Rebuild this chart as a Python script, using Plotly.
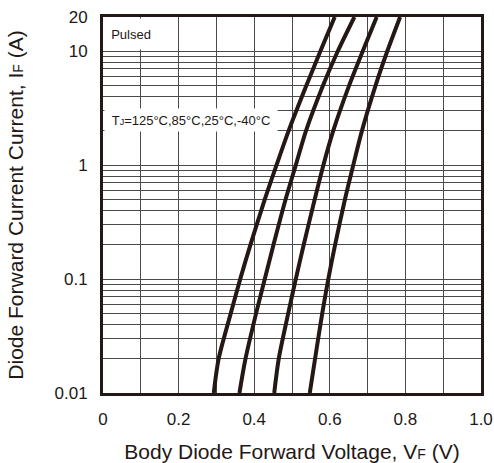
import plotly.graph_objects as go

# Forward current sample points (A) shared by every curve
current_a = [0.01, 0.02, 0.05, 0.1, 0.2, 0.5, 1, 2, 5, 10, 20]

# Body diode forward voltage (V) at each current, per junction temperature
vf_125c = [0.293, 0.306, 0.338, 0.363, 0.390, 0.428, 0.459, 0.491, 0.538, 0.575, 0.613]
vf_85c = [0.361, 0.377, 0.405, 0.428, 0.451, 0.483, 0.510, 0.537, 0.582, 0.621, 0.665]
vf_25c = [0.453, 0.465, 0.490, 0.510, 0.531, 0.560, 0.583, 0.609, 0.651, 0.687, 0.724]
vf_m40c = [0.547, 0.561, 0.580, 0.596, 0.614, 0.640, 0.662, 0.685, 0.721, 0.752, 0.786]

series = [("125°C", vf_125c), ("85°C", vf_85c), ("25°C", vf_25c), ("-40°C", vf_m40c)]

y_ticks = [0.01, 0.1, 1, 10, 20]
y_tick_text = ["0.01", "0.1", "1", "10", "20"]
y_minor = [m * d for d in (0.01, 0.1, 1) for m in range(2, 10)]

x_ticks = [0, 0.2, 0.4, 0.6, 0.8, 1.0]
x_tick_text = ["0", "0.2", "0.4", "0.6", "0.8", "1.0"]
x_minor = [0.1, 0.3, 0.5, 0.7, 0.9]

ink = "#231815"
grid = "#4a4a4a"
font_family = "Liberation Sans, Arial, sans-serif"

fig = go.Figure()
for name, vf in series:
    fig.add_trace(go.Scatter(
        x=vf, y=current_a, mode="lines", name=name,
        line=dict(color=ink, width=4, shape="spline", smoothing=0.8),
        showlegend=False,
    ))

fig.add_annotation(
    text="Pulsed", xref="paper", yref="paper", x=0.003, y=0.955,
    xanchor="left", yanchor="middle", showarrow=False,
    font=dict(size=13, color=ink, family=font_family),
    bgcolor="white", width=52, height=30, borderpad=0,
)
fig.add_annotation(
    text="T<span style='font-size:9px'>J</span>=125°C,85°C,25°C,-40°C",
    xref="paper", yref="paper", x=0.003, y=0.726,
    xanchor="left", yanchor="middle", showarrow=False,
    font=dict(size=13, color=ink, family=font_family),
    bgcolor="white", width=172, height=22, borderpad=0,
)

fig.update_layout(
    width=494, height=463,
    margin=dict(l=103, r=13, t=17, b=70),
    paper_bgcolor="white", plot_bgcolor="white",
    font=dict(family=font_family, color=ink),
    xaxis=dict(
        range=[0, 1.0], tickvals=x_ticks, ticktext=x_tick_text,
        showgrid=True, gridcolor=grid, gridwidth=1,
        minor=dict(tickvals=x_minor, showgrid=True, gridcolor=grid, gridwidth=1),
        showline=True, linecolor=ink, linewidth=3, mirror=True,
        ticks="outside", ticklen=9, tickcolor="rgba(0,0,0,0)",
        tickfont=dict(size=17, color=ink), zeroline=False, automargin=False,
        title=dict(text="Body Diode Forward Voltage, V<span style='font-size:14px'>F</span> (V)",
                   font=dict(size=21, color=ink), standoff=27),
    ),
    yaxis=dict(
        type="log", range=[-2, 1.30103], tickvals=y_ticks, ticktext=y_tick_text,
        showgrid=True, gridcolor=grid, gridwidth=1,
        minor=dict(tickvals=y_minor, showgrid=True, gridcolor=grid, gridwidth=1),
        showline=True, linecolor=ink, linewidth=3, mirror=True,
        ticks="outside", ticklen=9, tickcolor="rgba(0,0,0,0)",
        tickfont=dict(size=17, color=ink), automargin=False,
        title=dict(text="Diode Forward Current Current, I<span style='font-size:14px'>F</span> (A)",
                   font=dict(size=21, color=ink), standoff=26),
    ),
)

fig.write_html("out.html")
